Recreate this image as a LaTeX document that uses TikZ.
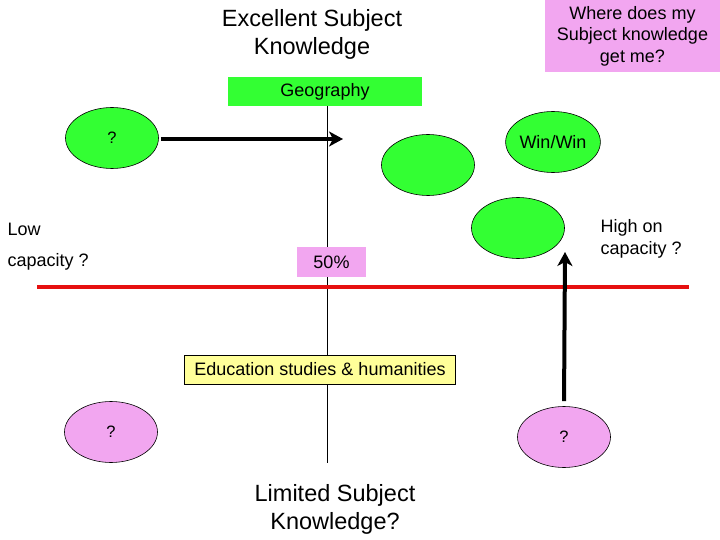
\documentclass[tikz,border=0pt]{standalone}
\usepackage{fontspec}
\setmainfont{Liberation Sans}
\usetikzlibrary{shapes.geometric,arrows.meta}
\definecolor{blobgreen}{RGB}{51,255,51}
\definecolor{blobpink}{RGB}{242,166,240}
\definecolor{noteyellow}{RGB}{255,255,153}
\definecolor{splitred}{RGB}{230,16,16}
\tikzset{
  txt/.style={font=\fontsize{18}{21.5}\selectfont},
  bigtxt/.style={font=\fontsize{23.5}{28}\selectfont, align=center},
  blob/.style={ellipse, draw=black, line width=0.6pt, minimum width=93pt, minimum height=61pt, inner sep=0pt, font=\fontsize{16.5}{18}\selectfont},
  bigarrow/.style={-{Stealth[length=14pt,width=15pt,inset=4pt]}, line width=4pt, black}
}
\begin{document}
\begin{tikzpicture}[x=1pt, y=-1pt]
            \useasboundingbox (0,0) rectangle (720,540);
            % Titres haut et bas
            \node[bigtxt] (excellent) at (312, 34) {Excellent Subject\\Knowledge};
            \node[bigtxt] (limited) at (335, 509) {Limited Subject\\Knowledge?};
            \node[txt, fill=blobpink, align=center, minimum width=175pt, minimum height=72pt, inner sep=0pt] (where) at (632.5, 36) {Where does my\\Subject knowledge\\get me?};

            % Axe vertical et ligne rouge
            \node[txt, fill=blobgreen, minimum width=194pt, minimum height=29pt, inner sep=0pt] (geo) at (325, 91.5) {Geography};
            \coordinate (axisBot) at (327, 463);
            \draw[black, line width=0.6pt] (geo.south -| axisBot) -- (axisBot);
            \node[txt, fill=blobpink, minimum width=69pt, minimum height=30pt, inner sep=0pt] (half) at (331.5, 262) {50\%};
            \coordinate (redL) at (37, 287);
            \coordinate (redR) at (689, 287);
            \draw[splitred, line width=4.5pt] (redL) -- (redR);
            \node[txt, fill=noteyellow, draw=black, line width=0.6pt, minimum width=271pt, minimum height=29pt, inner sep=0pt] (edu) at (320, 369.5) {Education studies \& humanities};

            % Textes de capacite
            \node[txt, anchor=west] (low) at (4, 229) {Low};
            \node[txt, anchor=west] (lowcap) at (4, 262) {capacity ?};
            \node[txt, anchor=west, align=left] (high) at (597, 239) {High on\\capacity ?};

            % Bulles vertes (haut) et roses (bas)
            \node[blob, fill=blobgreen] (qTL) at (112, 138) {?};
            \node[blob, fill=blobgreen] (mid) at (428, 165) {};
            \node[blob, fill=blobgreen, font=\fontsize{18}{21}\selectfont] (win) at (553, 142) {Win/Win};
            \node[blob, fill=blobgreen] (low2) at (518, 228) {};
            \node[blob, fill=blobpink] (qBL) at (111, 432) {?};
            \node[blob, fill=blobpink] (qBR) at (564, 437) {?};

            % Fleches
            \coordinate (rightTip) at (343, 139);
            \draw[bigarrow, shorten <=2pt] (qTL.east |- rightTip) -- (rightTip);
            \coordinate (upTip) at (565, 252);
            \draw[bigarrow, shorten <=5pt] (qBR.north) -- (upTip);
        \end{tikzpicture}
\end{document}
